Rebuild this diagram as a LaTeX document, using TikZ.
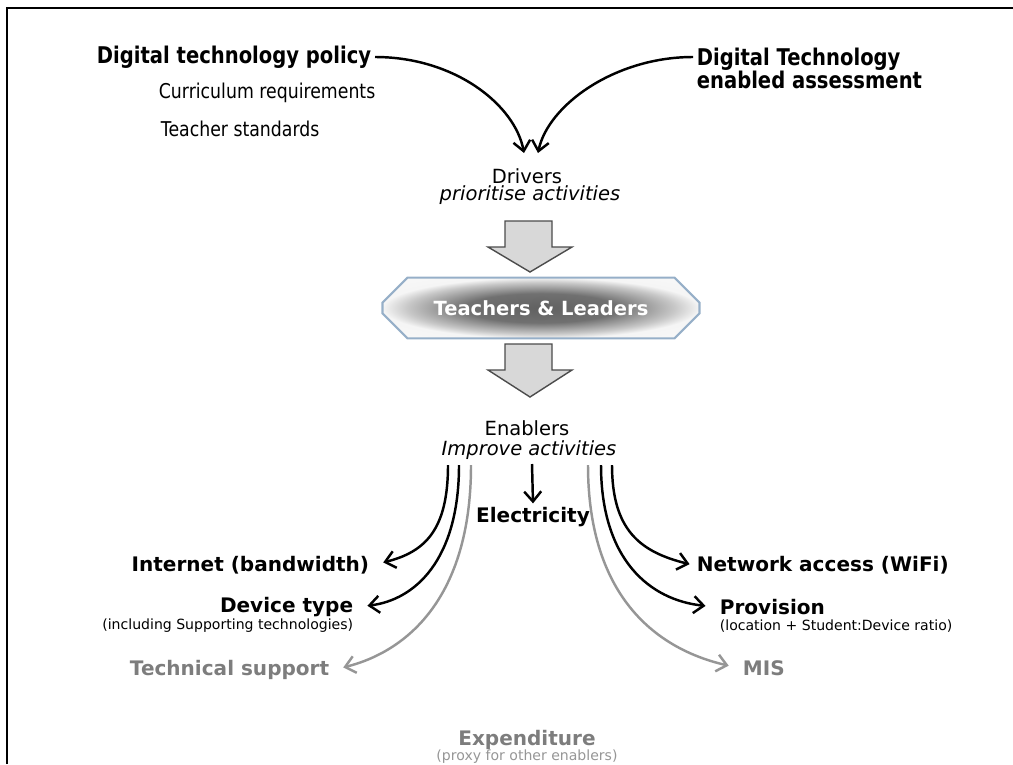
\documentclass[tikz,border=0pt]{standalone}
\usepackage{fontspec}
\setmainfont{DejaVu Sans}
\newfontfamily\tahoma[FakeStretch=0.85]{DejaVu Sans}
\usetikzlibrary{arrows.meta,shapes.misc}

\definecolor{boxblue}{RGB}{150,175,200}
\definecolor{fadegray}{RGB}{125,125,125}
\definecolor{lightgray}{RGB}{150,150,150}
\definecolor{arrowfill}{RGB}{216,216,216}
\pgfdeclareradialshading{leadshade}{\pgfpoint{0bp}{0bp}}{color(0bp)=(black!62); color(12bp)=(black!56); color(21bp)=(black!22); color(25bp)=(black!4); color(50bp)=(white)}

\begin{document}
\begin{tikzpicture}[x=0.02cm,y=-0.02cm,
  topbold/.style={font=\tahoma\fontsize{13.1}{13.1}\selectfont\bfseries, inner sep=2pt},
  topreg/.style={font=\tahoma\fontsize{11.6}{13}\selectfont, inner sep=2pt},
  mid/.style={font=\fontsize{11.1}{13}\selectfont, inner sep=2pt},
  label/.style={font=\fontsize{11.4}{13}\selectfont\bfseries, inner sep=2pt},
  small/.style={font=\fontsize{8}{9}\selectfont, inner sep=2pt},
  link/.style={line width=1.4pt, -{Straight Barb[length=2mm,width=3.4mm]}},
  fan/.style={link, shorten >=6pt},
  grayfan/.style={fan, draw=lightgray},
  blockarrow/.style={fill=arrowfill, draw=black!70, line width=0.8pt, line join=miter},
  leadbox/.style={chamfered rectangle, chamfered rectangle xsep=0.16cm, chamfered rectangle ysep=0.34cm,
    minimum width=6.34cm, minimum height=1cm, draw=boxblue, line width=1.2pt,
    shading=leadshade, text=white,
    font=\fontsize{11.1}{13}\selectfont\bfseries}
]
\useasboundingbox (0,0) rectangle (1013,764);
\draw[line width=1.7pt] (7,764) -- (7,8) -- (1013,8);

\node[topbold, anchor=east] (policy) at (375,57) {Digital technology policy};
\node[topreg, anchor=west] (curric) at (155,93) {Curriculum requirements};
\node[topreg, anchor=west] (tstand) at (157,129) {Teacher standards};
\node[topbold, anchor=west, align=left] (assess) at (693,68) {Digital Technology\\enabled assessment};

\node[mid] (drivers) at (527,176) {Drivers};
\node[mid, font=\fontsize{11.1}{13}\selectfont\itshape] (prior) at (530,195) {prioritise activities};
\coordinate (drvL) at (524,153);
\coordinate (drvR) at (538,153);
\draw[link] (policy.east) .. controls (455,57) and (515,105) .. (drvL);
\draw[link] (assess.west |- policy.east) .. controls (615,57) and (548,105) .. (drvR);

\draw[blockarrow] (505,221) -- (552,221) -- (552,247) -- (572,247) -- (530,272) -- (488,247) -- (505,247) -- cycle;
\node[leadbox] (lead) at (541,308) {Teachers \& Leaders};
\draw[blockarrow] (505,344) -- (552,344) -- (552,370) -- (572,370) -- (530,397) -- (488,370) -- (505,370) -- cycle;

\node[mid] (enab) at (527,428) {Enablers};
\node[mid, font=\fontsize{11.1}{13}\selectfont\itshape] (improve) at (529,450) {Improve activities};

\node[label] (elec) at (533,517) {Electricity};
\node[label, anchor=east] (inet) at (373,565) {Internet (bandwidth)};
\node[label, anchor=east] (devt) at (357,607) {Device type};
\node[small, anchor=east] (devsub) at (357,626) {(including Supporting technologies)};
\node[label, anchor=east, text=fadegray] (tech) at (333,670) {Technical support};
\node[label, anchor=west] (netw) at (693,565) {Network access (WiFi)};
\node[label, anchor=west] (prov) at (716,607) {Provision};
\node[small, anchor=west] (provsub) at (716,626) {(location + Student:Device ratio)};
\node[label, anchor=west, text=fadegray] (mis) at (739,668) {MIS};
\node[label, text=fadegray] (expend) at (527,740) {Expenditure};
\node[small, text=lightgray] (proxy) at (527,757) {(proxy for other enablers)};

\coordinate (elecTop) at (532,464);
\coordinate (fl1) at (448,465);
\coordinate (fl2) at (459,465);
\coordinate (fl3) at (471,465);
\coordinate (fr1) at (612,465);
\coordinate (fr2) at (601,465);
\coordinate (fr3) at (588,465);

\draw[link] (elecTop) -- (elec.north);
\draw[fan] (fl1) .. controls (448,530) and (425,552) .. (inet.east);
\draw[fan] (fl2) .. controls (459,560) and (415,600) .. (devt.east);
\draw[grayfan] (fl3) .. controls (471,600) and (405,652) .. (tech.east);
\draw[fan, shorten >=2pt] (fr1) .. controls (612,530) and (640,552) .. (netw.west);
\draw[fan] (fr2) .. controls (601,560) and (650,600) .. (prov.west);
\draw[grayfan] (fr3) .. controls (588,600) and (660,650) .. (mis.west);
\end{tikzpicture}
\end{document}
